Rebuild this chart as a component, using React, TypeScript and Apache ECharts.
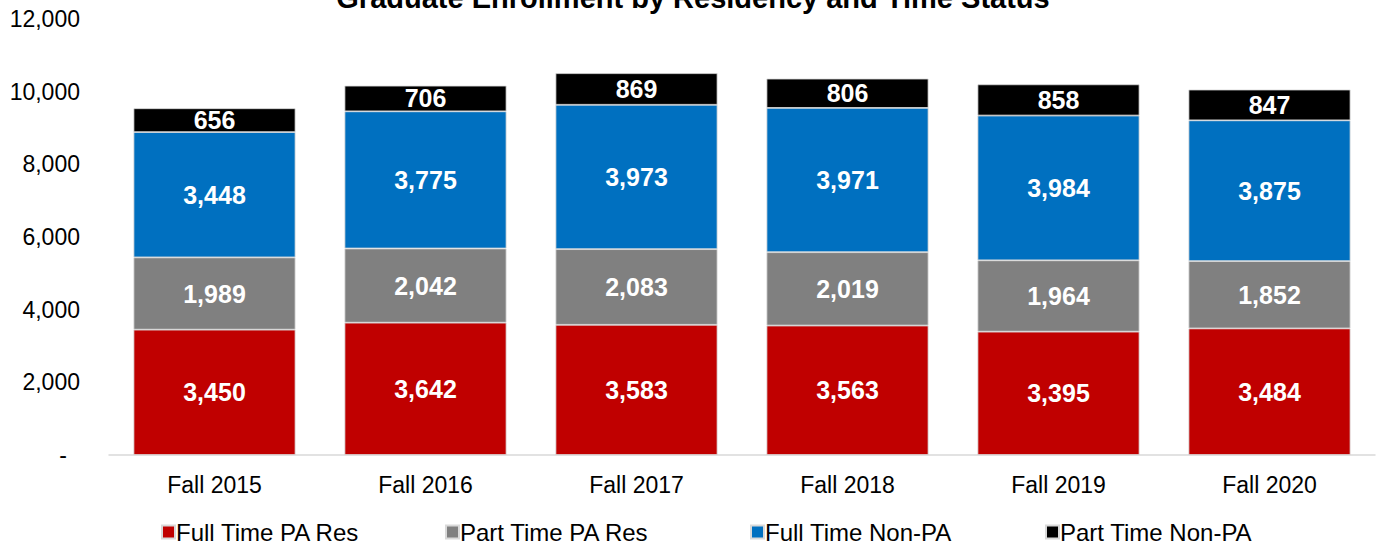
import React, { useEffect, useRef } from "react";
import * as echarts from "echarts";

const categories = ["Fall 2015", "Fall 2016", "Fall 2017", "Fall 2018", "Fall 2019", "Fall 2020"];
const seriesNames = ["Full Time PA Res", "Part Time PA Res", "Full Time Non-PA", "Part Time Non-PA"];
const fullTimePARes = [3450, 3642, 3583, 3563, 3395, 3484];
const partTimePARes = [1989, 2042, 2083, 2019, 1964, 1852];
const fullTimeNonPA = [3448, 3775, 3973, 3971, 3984, 3875];
const partTimeNonPA = [656, 706, 869, 806, 858, 847];
const colors = ["#C00000", "#808080", "#0070C0", "#000000"];
const titleText = "Graduate Enrollment by Residency and Time Status";

const FONT = "'Liberation Sans', Arial, Helvetica, sans-serif";

export default function App() {
  const ref = useRef<HTMLDivElement>(null);
  useEffect(() => {
    if (!ref.current) return;
    const chart = echarts.init(ref.current, null, { renderer: "svg" });
    const dataSets = [fullTimePARes, partTimePARes, fullTimeNonPA, partTimeNonPA];
    const legendLefts = [156, 440, 745, 1040];
    const option: any = {
      animation: false,
      textStyle: { fontFamily: FONT },
      graphic: [
        {
          type: "text",
          x: 693,
          y: -2,
          style: {
            text: titleText,
            fill: "#000",
            font: `bold 29px ${FONT}`,
            textAlign: "center",
            textVerticalAlign: "middle",
          },
        },
      ],
      legend: seriesNames.map((n, i) => ({
        data: [n],
        left: legendLefts[i],
        top: 515,
        icon: "rect",
        itemWidth: 13,
        itemHeight: 13,
        itemGap: 0,
        textStyle: { fontSize: 24, color: "#000", fontFamily: FONT, padding: [0, 0, 0, -4] },
        selectedMode: false,
      })),
      grid: { left: 109, right: 2, top: 19, bottom: 91, containLabel: false },
      xAxis: {
        type: "category",
        data: categories,
        axisLine: { show: true, lineStyle: { color: "#d9d9d9", width: 1.5 } },
        axisTick: { show: false },
        axisLabel: { fontSize: 23, color: "#000", margin: 18, fontFamily: FONT },
      },
      yAxis: {
        type: "value",
        min: 0,
        max: 12000,
        interval: 2000,
        splitLine: { show: false },
        axisLine: { show: false },
        axisTick: { show: false },
        axisLabel: {
          fontSize: 23,
          color: "#000",
          margin: 29,
          fontFamily: FONT,
          formatter: (v: number) => (v === 0 ? "{d|-}" : v.toLocaleString("en-US")),
          rich: { d: { fontSize: 23, color: "#000", padding: [0, 13, 0, 0], fontFamily: FONT } },
        },
      },
      series: seriesNames.map((n, i) => ({
        name: n,
        type: "bar",
        stack: "total",
        data: dataSets[i],
        barWidth: 162,
        itemStyle: { color: colors[i], borderColor: "#d9d9d9", borderWidth: 0.8 },
        label: {
          show: true,
          position: "inside",
          color: "#fff",
          fontSize: 25,
          fontWeight: "bold",
          fontFamily: FONT,
          formatter: (p: any) => Number(p.value).toLocaleString("en-US"),
        },
      })),
    };
    chart.setOption(option);
    return () => chart.dispose();
  }, []);
  return (
    <div
      ref={ref}
      style={{ position: "fixed", left: 0, top: 0, width: 1377, height: 546, background: "#fff" }}
    />
  );
}
